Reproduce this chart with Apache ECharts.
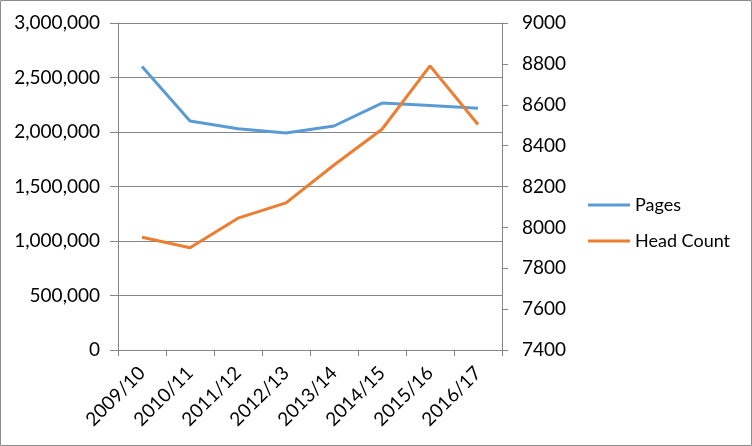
<!DOCTYPE html>
<html>
<head>
<meta charset="utf-8">
<script src="https://cdn.jsdelivr.net/npm/echarts@6/dist/echarts.min.js"></script>
<style>
  html, body { margin: 0; padding: 0; background: #fff; }
  #chart { width: 752px; height: 446px; }
</style>
</head>
<body>
<div id="chart"></div>
<script>
// data
const years = ['2009/10', '2010/11', '2011/12', '2012/13', '2013/14', '2014/15', '2015/16', '2016/17']
const pages = [2600000, 2100000, 2030000, 1990000, 2055000, 2265000, 2242000, 2217000]
const headCount = [7952, 7900, 8045, 8120, 8305, 8480, 8790, 8503]

const font = 'Lato, "Open Sans", sans-serif'
const axisGrey = '#868686'

let myChart = echarts.init(document.getElementById('chart'))

myChart.setOption({
  animation: false,
  textStyle: { fontFamily: font },
  graphic: [{
    type: 'rect',
    shape: { x: 0.5, y: 0.5, width: 751, height: 445 },
    style: { fill: 'none', stroke: '#8c8c8c', lineWidth: 1 }
  }],
  grid: { left: 118, right: 250, top: 23, bottom: 96 },
  legend: {
    orient: 'vertical',
    left: 583,
    top: 191,
    icon: 'rect',
    itemWidth: 42,
    itemHeight: 3,
    itemGap: 18,
    textStyle: { fontFamily: font, fontSize: 18, color: '#000' },
    data: ['Pages', 'Head Count']
  },
  xAxis: {
    type: 'category',
    data: years,
    axisLine: { lineStyle: { color: axisGrey } },
    axisTick: { show: true, length: 6, lineStyle: { color: axisGrey } },
    axisLabel: { rotate: 45, color: '#000', fontSize: 19, fontFamily: font, margin: 20, interval: 0 }
  },
  yAxis: [{
    type: 'value',
    min: 0,
    max: 3000000,
    interval: 500000,
    axisLine: { show: true, lineStyle: { color: axisGrey } },
    axisTick: { show: true, length: 8, lineStyle: { color: axisGrey } },
    splitLine: { lineStyle: { color: axisGrey } },
    axisLabel: {
      color: '#000', fontSize: 19, fontFamily: font, margin: 18,
      formatter: v => v.toLocaleString('en-US')
    }
  }, {
    type: 'value',
    min: 7400,
    max: 9000,
    interval: 200,
    position: 'right',
    axisLine: { show: true, lineStyle: { color: axisGrey } },
    axisTick: { show: true, length: 6, lineStyle: { color: axisGrey } },
    splitLine: { show: false },
    axisLabel: { color: '#000', fontSize: 19, fontFamily: font, margin: 20, formatter: v => String(v) }
  }],
  series: [{
    name: 'Pages',
    type: 'line',
    data: pages,
    yAxisIndex: 0,
    symbol: 'none',
    lineStyle: { width: 3, color: '#5B9BD5' },
    itemStyle: { color: '#5B9BD5' }
  }, {
    name: 'Head Count',
    type: 'line',
    data: headCount,
    yAxisIndex: 1,
    symbol: 'none',
    lineStyle: { width: 3, color: '#ED7D31' },
    itemStyle: { color: '#ED7D31' }
  }]
})
</script>
</body>
</html>
